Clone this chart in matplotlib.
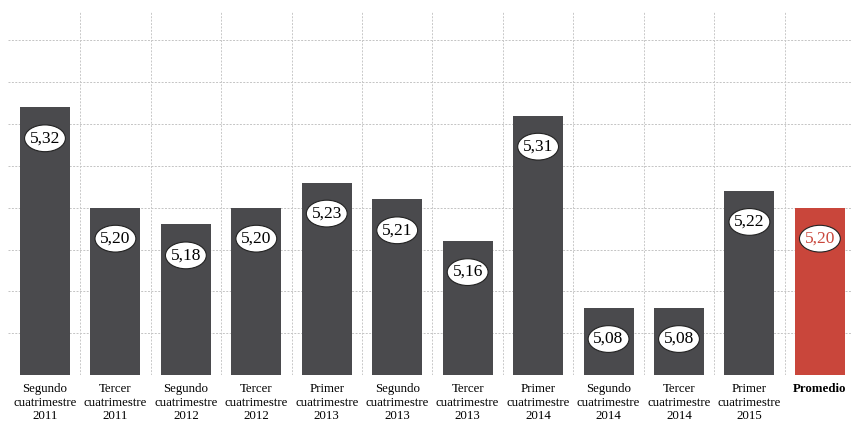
"""Bar chart: promedio por cuatrimestre 2011-2015."""
import numpy as np
import matplotlib
matplotlib.use("Agg")
import matplotlib.pyplot as plt
from matplotlib.patches import Ellipse

periodos = ["Segundo", "Tercer", "Segundo", "Tercer", "Primer", "Segundo",
            "Tercer", "Primer", "Segundo", "Tercer", "Primer"]
anios = ["2011", "2011", "2012", "2012", "2013", "2013",
         "2013", "2014", "2014", "2014", "2015"]
valores = [5.32, 5.20, 5.18, 5.20, 5.23, 5.21, 5.16, 5.31, 5.08, 5.08, 5.22]
promedio = 5.20
etiquetas_valor = ["5,32", "5,20", "5,18", "5,20", "5,23", "5,21", "5,16",
                   "5,31", "5,08", "5,08", "5,22"]
etiqueta_promedio = "5,20"

GRIS = "#4a4a4d"
ROJO = "#c9463b"
plt.rcParams["font.family"] = ["Liberation Serif", "DejaVu Serif"]

fig = plt.figure(figsize=(8.53, 4.22), dpi=100)
ax = fig.add_axes([8 / 853, 47 / 422, 845 / 853, 363 / 422])

x = np.arange(len(valores) + 1)
alturas = valores + [promedio]
colores = [GRIS] * len(valores) + [ROJO]
ax.bar(x, np.array(alturas) - 5.0, bottom=5.0, width=0.71, color=colores,
       lw=0, zorder=3)

# grid
for yv in np.arange(5.05, 5.41, 0.05):
    ax.axhline(yv, color="#c4c4c4", lw=0.7, ls=(0, (2, 1.5)), zorder=1)
for xv in x[:-1] + 0.5:
    ax.axvline(xv, color="#c8c8c8", lw=0.7, ls=(0, (2, 1.5)), zorder=1)

# value ovals
textos = etiquetas_valor + [etiqueta_promedio]
for xi, h, t, c in zip(x, alturas, textos, colores):
    yc = h - 0.037
    ax.add_patch(Ellipse((xi, yc), 0.58, 0.032, fc="white", ec="#222222",
                         lw=0.8, zorder=4))
    ax.text(xi, yc, t, ha="center", va="center", fontsize=12.5,
            color="black" if c == GRIS else ROJO, zorder=5)

ax.set_xlim(-0.525, 11.47)
ax.set_ylim(5.0, 5.434)
ax.set_xticks(x)
ticks = [f"{p}\ncuatrimestre\n{a}" for p, a in zip(periodos, anios)] + ["Promedio"]
ax.set_xticklabels(ticks, fontsize=9.3, linespacing=1.15, va="top")
ax.get_xticklabels()[-1].set_fontweight("bold")
ax.tick_params(axis="x", length=0, pad=6)
ax.set_yticks([])
for s in ax.spines.values():
    s.set_visible(False)

fig.savefig("out.png", dpi=100)
